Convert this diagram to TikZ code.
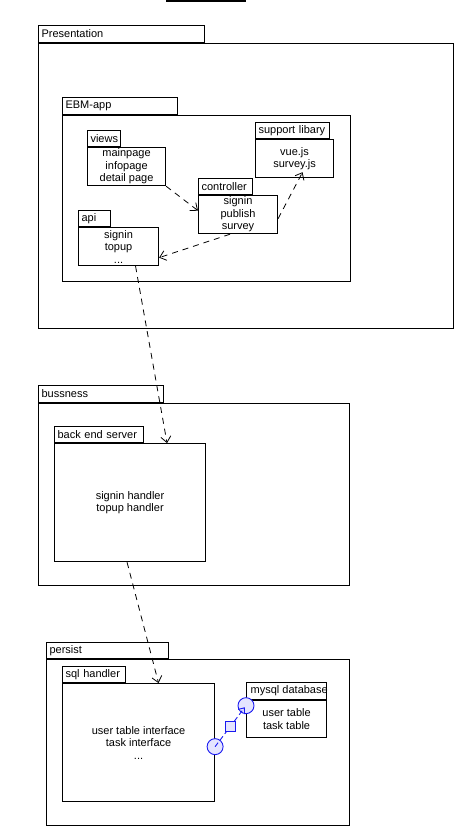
\documentclass[tikz,border=0pt]{standalone}
\usepackage{fontspec}
\setmainfont{Liberation Sans}
\usetikzlibrary{arrows.meta}
\definecolor{portblue}{RGB}{25,25,240}
\definecolor{portfill}{RGB}{228,228,255}
\tikzset{
	tab/.style={draw, line width=1.1pt, anchor=north west, inner xsep=3pt, inner ysep=0pt, align=left},
	pkg/.style={draw, line width=1.1pt, anchor=north west, inner sep=0pt, align=center},
	dep/.style={line width=0.8pt, dash pattern=on 6pt off 5pt, -{Straight Barb[length=6pt,width=10pt]}},
	port/.style={circle, draw=portblue, fill=portfill, solid, line width=0.9pt, minimum size=16pt, inner sep=0pt},
	portbox/.style={rectangle, draw=portblue, fill=portfill, solid, line width=0.9pt, minimum size=10pt, inner sep=0pt},
	portdep/.style={draw=portblue, line width=0.9pt, dash pattern=on 5pt off 3pt, -{Straight Barb[length=5pt,width=8pt]}}
}
\begin{document}
\begin{tikzpicture}[x=1pt,y=-1pt,font=\fontsize{11}{12.5}\selectfont]
	\useasboundingbox (0,0) rectangle (465,832);
	\coordinate (topL) at (166,1);
	\coordinate (topR) at (246,1);
	\draw[line width=1.1pt] (topL)--(topR);
	\node[tab, text width=160pt, minimum height=17pt] (presTab) at (38,25) {Presentation};
	\node[pkg, minimum width=415pt, minimum height=285pt] (presBody) at (presTab.south west) {};
	\node[tab, text width=109pt, minimum height=17pt] (ebmTab) at (62,97) {EBM-app};
	\node[pkg, minimum width=288pt, minimum height=166pt] (ebmBody) at (ebmTab.south west) {};
	\node[tab, text width=27pt, minimum height=16pt] (viewsTab) at (87,130) {views};
	\node[pkg, minimum width=78pt, minimum height=38pt] (viewsBody) at (viewsTab.south west) {mainpage\\infopage\\detail page};
	\node[tab, text width=68pt, minimum height=16pt] (supTab) at (255,122) {support libary};
	\node[pkg, minimum width=78pt, minimum height=38pt] (supBody) at (supTab.south west) {vue.js\\survey.js};
	\node[tab, text width=48pt, minimum height=16pt] (ctrlTab) at (198,178) {controller};
	\node[pkg, minimum width=79pt, minimum height=38pt] (ctrlBody) at (ctrlTab.south west) {signin\\publish\\survey};
	\node[tab, text width=26pt, minimum height=16pt] (apiTab) at (78,210) {api};
	\node[pkg, minimum width=80pt, minimum height=38pt] (apiBody) at (apiTab.south west) {signin\\topup\\...};
	\node[tab, text width=119pt, minimum height=17pt] (busTab) at (38,385) {bussness};
	\node[pkg, minimum width=311pt, minimum height=182pt] (busBody) at (busTab.south west) {};
	\node[tab, text width=83pt, minimum height=16pt] (beTab) at (54,426) {back end server};
	\node[pkg, minimum width=151pt, minimum height=118pt] (beBody) at (beTab.south west) {signin handler\\topup handler};
	\node[tab, text width=116pt, minimum height=16pt] (perTab) at (46,642) {persist};
	\node[pkg, minimum width=303pt, minimum height=166pt] (perBody) at (perTab.south west) {};
	\node[tab, text width=57pt, minimum height=16pt] (sqlTab) at (62,666) {sql handler};
	\node[pkg, minimum width=152pt, minimum height=118pt] (sqlBody) at (sqlTab.south west) {user table interface\\task interface\\...};
	\node[pkg, minimum width=80pt, minimum height=17pt] (dbTab) at (246,682) {};
	\begin{scope}
		\clip (dbTab.north west) rectangle (dbTab.south east);
		\node[anchor=west, inner sep=0pt] (dbLabel) at ([xshift=4.5pt]dbTab.west) {mysql database};
	\end{scope}
	\node[pkg, minimum width=80pt, minimum height=37pt] (dbBody) at (dbTab.south west) {user table\\task table};
	\draw[dep] (viewsBody.south east)--([yshift=4pt]ctrlBody.west);
	\draw[dep] ([yshift=-4pt]ctrlBody.east)--([xshift=8pt,yshift=6pt]supBody.south);
	\draw[dep] ([xshift=-8pt]ctrlBody.south)--([yshift=-11pt]apiBody.east);
	\draw[dep] ([xshift=17pt]apiBody.south)--([xshift=37pt]beBody.north);
	\draw[dep] ([xshift=-3pt]beBody.south)--([xshift=20pt]sqlBody.north);
	\node[port] (sqlPort) at ([yshift=-4pt]sqlBody.east) {};
	\node[port] (dbPort) at ([yshift=13.5pt]dbBody.west) {};
	\draw[portdep, shorten >=2pt] (sqlPort.center)-- node[portbox] (portLink) {} (dbPort.center);
\end{tikzpicture}
\end{document}
